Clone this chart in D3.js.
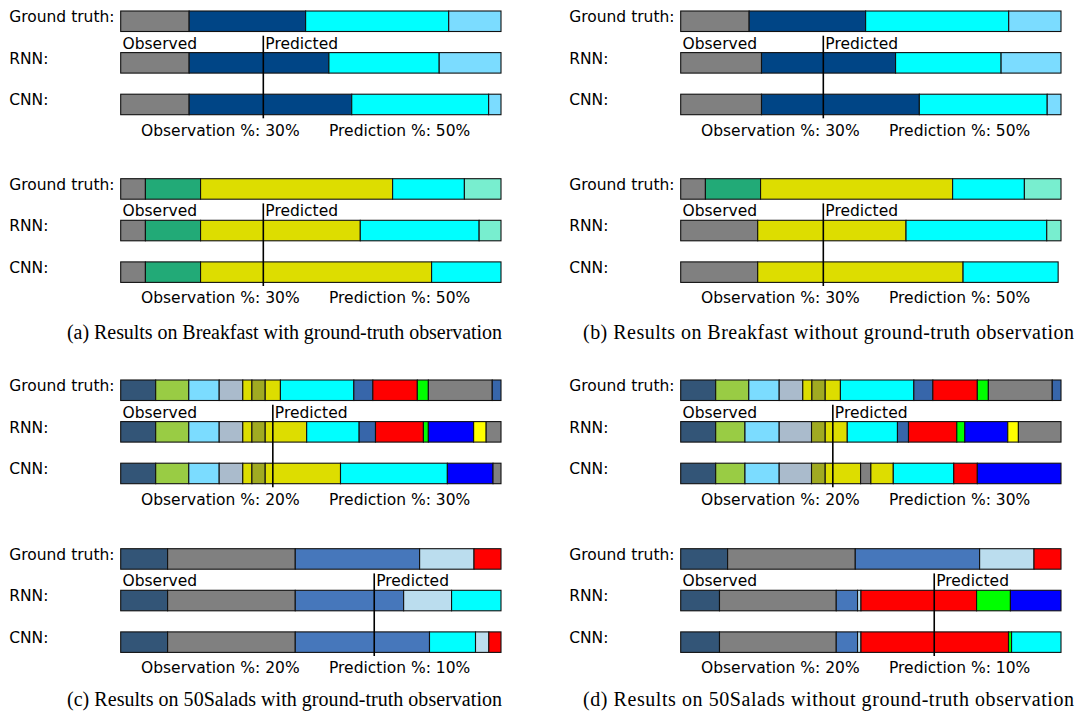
<!DOCTYPE html>
<html>
<head>
<meta charset="utf-8">
<script src="https://cdn.jsdelivr.net/npm/d3@7"></script>
<style>
  html, body { margin: 0; padding: 0; background: #fff; }
  svg { display: block; }
  .lbl { font-family: "DejaVu Sans", sans-serif; font-size: 15.5px; fill: #000; }
  .cap { font-family: "Liberation Serif", "Times New Roman", serif; font-size: 20px; fill: #000; }
</style>
</head>
<body>
<script>
// ---------- DATA ----------
// Row names
const rowNames = ["Ground truth:", "RNN:", "CNN:"];
const annotTexts = ["Observed", "Predicted"];

// Observation / prediction percentages for each block
const obsPct = [30, 30, 20, 20];
const predPct = [50, 50, 30, 10];

// Segments: [action class, end of segment in % of video]
// Breakfast, video 1 (block 0)
const bf1_gt      = [["gray",14.4],["dblue",38.9],["cyan",69.0],["lblue",80]];
const bf1_rnn_gt  = [["gray",14.4],["dblue",43.8],["cyan",67.0],["lblue",80]];
const bf1_cnn_gt  = [["gray",14.4],["dblue",48.6],["cyan",77.4],["lblue",80]];
const bf1_rnn_no  = [["gray",17.0],["dblue",45.2],["cyan",67.4],["lblue",80]];
const bf1_cnn_no  = [["gray",17.0],["dblue",50.2],["cyan",77.1],["lblue",80]];

// Breakfast, video 2 (block 1)
const bf2_gt      = [["gray",5.2],["green",16.8],["yellow",57.2],["cyan",72.3],["aqua",80]];
const bf2_rnn_gt  = [["gray",5.2],["green",16.8],["yellow",50.4],["cyan",75.4],["aqua",80]];
const bf2_cnn_gt  = [["gray",5.2],["green",16.8],["yellow",65.4],["cyan",80]];
const bf2_rnn_no  = [["gray",16.2],["yellow",47.4],["cyan",77.0],["aqua",80]];
const bf2_cnn_no  = [["gray",16.2],["yellow",59.4],["cyan",79.4]];

// 50Salads, video 1 (block 2)
const sa1_gt      = [["slate",4.6],["ygreen",8.95],["lblue",12.95],["steel",16.05],["yellow",17.25],["olive",19.0],["yellow",21.0],["cyan",30.65],["sblue",33.15],["red",39.0],["lime",40.45],["gray",48.85],["sblue",50]];
const sa1_rnn_gt  = [["slate",4.6],["ygreen",8.95],["lblue",12.95],["steel",16.05],["yellow",17.25],["olive",19.0],["yellow",24.45],["cyan",31.35],["sblue",33.5],["red",39.8],["lime",40.45],["blue",46.4],["byellow",48.05],["gray",50]];
const sa1_cnn_gt  = [["slate",4.6],["ygreen",8.95],["lblue",12.95],["steel",16.05],["yellow",17.25],["olive",19.0],["yellow",28.9],["cyan",42.95],["blue",48.95],["gray",50]];
const sa1_rnn_no  = [["slate",4.6],["ygreen",8.45],["lblue",12.95],["steel",17.2],["olive",19.0],["yellow",21.9],["cyan",28.5],["sblue",29.95],["red",36.3],["lime",37.35],["blue",43.0],["byellow",44.4],["gray",50]];
const sa1_cnn_no  = [["slate",4.6],["ygreen",8.45],["lblue",12.95],["steel",17.2],["olive",19.0],["yellow",23.65],["gray",25.0],["yellow",27.95],["cyan",35.9],["red",39.0],["blue",50]];

// 50Salads, video 2 (block 3)
const sa2_gt      = [["slate",3.7],["gray",13.77],["mblue",23.58],["pblue",27.87],["red",30]];
const sa2_rnn_gt  = [["slate",3.7],["gray",13.77],["mblue",22.32],["pblue",26.1],["cyan",30]];
const sa2_cnn_gt  = [["slate",3.7],["gray",13.77],["mblue",24.36],["cyan",27.99],["pblue",29.04],["red",30]];
const sa2_rnn_no  = [["slate",3.06],["gray",12.27],["mblue",13.95],["pblue",14.22],["red",23.34],["lime",26.01],["blue",30]];
const sa2_cnn_no  = [["slate",3.06],["gray",12.27],["mblue",13.95],["pblue",14.22],["red",25.86],["lime",26.1],["cyan",30]];

const captions = [
  "(a) Results on Breakfast with ground-truth observation",
  "(b) Results on Breakfast without ground-truth observation",
  "(c) Results on 50Salads with ground-truth observation",
  "(d) Results on 50Salads without ground-truth observation"
];

// ---------- STYLE ----------
const palette = {
  gray: "#808080", dblue: "#004586", cyan: "#00ffff", lblue: "#7bdcff",
  green: "#22aa77", yellow: "#dddd00", aqua: "#78eecf",
  slate: "#335577", ygreen: "#99cc44", steel: "#aabbcc", olive: "#a0aa22",
  sblue: "#3766aa", red: "#ff0000", lime: "#00ff00", blue: "#0000ff",
  byellow: "#ffff00", mblue: "#4677bb", pblue: "#bbddee"
};

// ---------- LAYOUT ----------
const W = 1076, H = 712;
const colX0 = [120.7, 680.7];
const barW = 380.3;
const barH = 20.5;
const rowStep = 41.6;
const blockTop = [11, 178.7, 380, 548.7];

const svg = d3.select("body").append("svg").attr("width", W).attr("height", H);

// blocks: [block index][column] -> rows
const blocks = [
  [[bf1_gt, bf1_rnn_gt, bf1_cnn_gt], [bf1_gt, bf1_rnn_no, bf1_cnn_no]],
  [[bf2_gt, bf2_rnn_gt, bf2_cnn_gt], [bf2_gt, bf2_rnn_no, bf2_cnn_no]],
  [[sa1_gt, sa1_rnn_gt, sa1_cnn_gt], [sa1_gt, sa1_rnn_no, sa1_cnn_no]],
  [[sa2_gt, sa2_rnn_gt, sa2_cnn_gt], [sa2_gt, sa2_rnn_no, sa2_cnn_no]]
];

blocks.forEach((cols, bi) => {
  const total = obsPct[bi] + predPct[bi];
  cols.forEach((rows, ci) => {
    const x0 = colX0[ci];
    const x = d3.scaleLinear().domain([0, total]).range([x0, x0 + barW]);
    const y = d3.scaleBand().domain(rowNames).range([blockTop[bi], blockTop[bi] + rowStep * 3]).paddingInner(0);
    const g = svg.append("g");

    rows.forEach((segs, ri) => {
      const yTop = y(rowNames[ri]);
      const data = segs.map((s, i) => ({ cls: s[0], start: i === 0 ? 0 : segs[i - 1][1], end: s[1] }));
      g.selectAll(null).data(data).enter().append("rect")
        .attr("x", d => x(d.start))
        .attr("y", yTop)
        .attr("width", d => x(d.end) - x(d.start))
        .attr("height", barH)
        .attr("fill", d => palette[d.cls])
        .attr("stroke", "#111")
        .attr("stroke-width", 1.1);

      g.append("text").attr("class", "lbl")
        .attr("x", x0 - 111.5)
        .attr("y", yTop + barH / 2 + 0.8)
        .text(rowNames[ri]);
    });

    // observation boundary line
    const lx = x(obsPct[bi]);
    const top = blockTop[bi];
    g.append("line")
      .attr("x1", lx).attr("x2", lx)
      .attr("y1", top + 24.7).attr("y2", top + 107.3)
      .attr("stroke", "#000").attr("stroke-width", 1.6);

    g.append("text").attr("class", "lbl")
      .attr("x", x0 + 1.8).attr("y", top + 37.5).text(annotTexts[0]);
    g.append("text").attr("class", "lbl")
      .attr("x", lx + 2).attr("y", top + 37.5).text(annotTexts[1]);

    g.append("text").attr("class", "lbl")
      .attr("x", x0 + 20.3).attr("y", top + 124.5)
      .text("Observation %: " + obsPct[bi] + "%");
    g.append("text").attr("class", "lbl")
      .attr("x", x0 + 208.3).attr("y", top + 124.5)
      .text("Prediction %: " + predPct[bi] + "%");
  });
});

// captions: [x start, baseline, target length]
const capPos = [[67, 339, 435], [583, 339, 491], [67, 706, 435], [583, 706, 491]];
captions.forEach((c, i) => {
  svg.append("text").attr("class", "cap")
    .attr("x", capPos[i][0]).attr("y", capPos[i][1])
    .attr("textLength", capPos[i][2])
    .attr("lengthAdjust", "spacing")
    .text(c);
});
</script>
</body>
</html>
